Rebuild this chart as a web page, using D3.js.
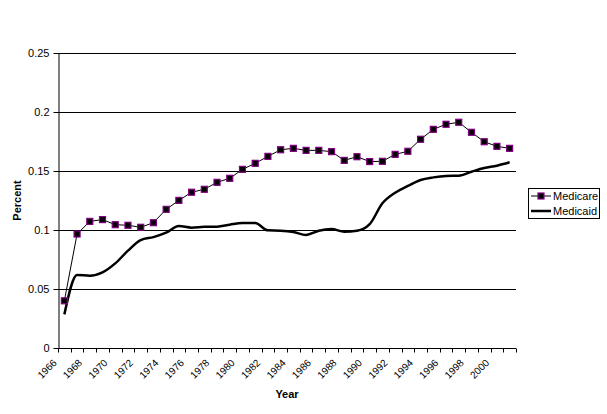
<!DOCTYPE html>
<html><head><meta charset="utf-8">
<script src="https://cdn.jsdelivr.net/npm/d3@7"></script>
<style>body{margin:0;background:#fff}svg{display:block}text{font-family:"Liberation Sans",Arial,sans-serif}</style>
</head><body>
<svg id="c" width="607" height="414"></svg>
<script>
const years = d3.range(1966, 2002).map(String);
const medicare = [0.040,0.0966,0.1073,0.1088,0.1045,0.104,0.1023,0.1062,0.1175,0.1251,0.132,0.1345,0.1404,0.1438,0.1514,0.1565,0.1624,0.168,0.1692,0.1675,0.1675,0.1664,0.159,0.1621,0.158,0.1582,0.1641,0.1667,0.1769,0.1853,0.1896,0.1913,0.1828,0.1748,0.1709,0.1692];
const medicaid = [0.0285,0.0619,0.0613,0.0641,0.0717,0.0825,0.0915,0.094,0.0977,0.1034,0.102,0.1027,0.1028,0.1045,0.1059,0.1059,0.0997,0.0994,0.0983,0.0958,0.0994,0.1008,0.0986,0.0994,0.105,0.1226,0.1316,0.1373,0.1424,0.1446,0.1458,0.146,0.1494,0.1525,0.1545,0.1574];
const yTicks = [0,0.05,0.1,0.15,0.2,0.25];
const xLabels = years.filter((d,i)=>i%2===0);

const svg = d3.select("#c");
const L=58,R=516,T=53,B=348;
const x = d3.scaleBand().domain(years).range([L,R]);
const y = d3.scaleLinear().domain([0,0.25]).range([B,T]);
const cx = d => x(d)+x.bandwidth()/2;

// gridlines
svg.append("g").selectAll("line").data(yTicks.slice(1)).join("line")
  .attr("x1",L).attr("x2",R).attr("y1",d=>Math.round(y(d))+0.5).attr("y2",d=>Math.round(y(d))+0.5)
  .attr("stroke","#000").attr("stroke-width",1);

// y axis
const ya = svg.append("g").attr("transform",`translate(${L+0.5},0)`)
  .call(d3.axisLeft(y).tickValues(yTicks).tickFormat(d=>String(d)).tickSize(5).tickSizeOuter(0).tickPadding(4));
ya.selectAll("text").attr("font-size",11).attr("fill","#000").attr("font-family","Liberation Sans, Arial, sans-serif");
ya.selectAll("line,path").attr("stroke","#000");

// x axis
const xa = svg.append("g").attr("transform",`translate(0,${B+0.5})`);
xa.append("line").attr("x1",L).attr("x2",R).attr("stroke","#000");
xa.selectAll("line.t").data(d3.range(years.length+1)).join("line").attr("class","t")
  .attr("x1",i=>Math.round(L+i*x.bandwidth())+0.5).attr("x2",i=>Math.round(L+i*x.bandwidth())+0.5)
  .attr("y1",0).attr("y2",4).attr("stroke","#000");
xa.selectAll("text").data(xLabels).join("text")
  .attr("transform",d=>`translate(${cx(d)-7},${15}) rotate(-45)`)
  .attr("text-anchor","end").attr("font-size",10).attr("fill","#000").text(d=>d);

// axis titles
svg.append("text").attr("x",(L+R)/2).attr("y",398).attr("text-anchor","middle")
  .attr("font-size",11).attr("font-weight","bold").text("Year");
svg.append("text").attr("transform",`translate(21,${(T+B)/2}) rotate(-90)`).attr("text-anchor","middle")
  .attr("font-size",11).attr("font-weight","bold").text("Percent");

const smooth = d3.line().x((d,i)=>cx(years[i])).y(d=>y(d)).curve(d3.curveMonotoneX);
const straight = d3.line().x((d,i)=>cx(years[i])).y(d=>y(d));
svg.append("path").datum(medicaid).attr("d",smooth).attr("fill","none").attr("stroke","#000").attr("stroke-width",2.5);
svg.append("path").datum(medicare).attr("d",straight).attr("fill","none").attr("stroke","#000").attr("stroke-width",1);
svg.append("g").selectAll("rect").data(medicare).join("rect")
  .attr("x",(d,i)=>cx(years[i])-3).attr("y",d=>y(d)-3).attr("width",6).attr("height",6)
  .attr("fill","#000").attr("stroke","#800080").attr("stroke-width",1.2);

// legend
const lg = svg.append("g");
lg.append("rect").attr("x",528.5).attr("y",188.5).attr("width",71).attr("height",30).attr("fill","#fff").attr("stroke","#000");
lg.append("line").attr("x1",531).attr("x2",551).attr("y1",196).attr("y2",196).attr("stroke","#000");
lg.append("rect").attr("x",538).attr("y",193).attr("width",6).attr("height",6).attr("fill","#000").attr("stroke","#800080").attr("stroke-width",1.2);
lg.append("text").attr("x",553).attr("y",200).attr("font-size",11).text("Medicare");
lg.append("line").attr("x1",531).attr("x2",551).attr("y1",211).attr("y2",211).attr("stroke","#000").attr("stroke-width",2.5);
lg.append("text").attr("x",553).attr("y",215).attr("font-size",11).text("Medicaid");
</script>
</body></html>
